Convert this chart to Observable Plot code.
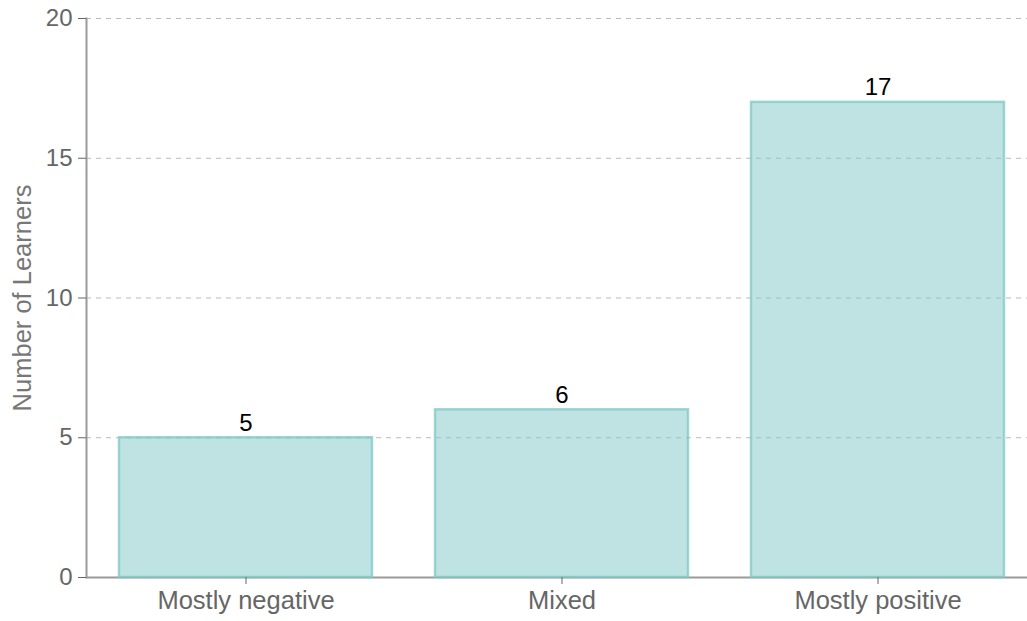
<!DOCTYPE html>
<html>
<head>
<meta charset="utf-8">
<script src="https://cdn.jsdelivr.net/npm/d3@7"></script>
<script src="https://cdn.jsdelivr.net/npm/@observablehq/plot@0.6"></script>
<style>
  html, body { margin: 0; padding: 0; background: white; }
</style>
</head>
<body>
<div id="chart"></div>
<script>
const categories = ["Mostly negative", "Mixed", "Mostly positive"];
const counts = [5, 6, 17];
const yTicks = [0, 5, 10, 15, 20];
const yLabel = "Number of Learners";

const data = categories.map((c, i) => ({category: c, count: counts[i]}));

const chart = Plot.plot({
  width: 1027,
  height: 621,
  marginLeft: 86,
  marginRight: 0,
  marginTop: 18,
  marginBottom: 44,
  style: {fontFamily: "'Liberation Sans', Arial, sans-serif", fontSize: "24px", background: "white", overflow: "hidden"},
  x: {domain: categories, range: [86, 1036], paddingInner: 0.2, paddingOuter: 0.1},
  y: {domain: [0, 20]},
  marks: [
    Plot.gridY(yTicks, {stroke: "#bbb", strokeOpacity: 1, strokeDasharray: "5,5", strokeWidth: 1.2}),
    Plot.ruleY([0], {stroke: "#9a9a9a", strokeWidth: 2}),
    Plot.frame({anchor: "left", stroke: "#9a9a9a", strokeWidth: 2}),
    Plot.barY(data, {x: "category", y: "count", fill: "#7fc8c6", fillOpacity: 0.5, stroke: "#7fc8c6", strokeOpacity: 0.75, strokeWidth: 2.5}),
    Plot.text(data, {x: "category", y: "count", text: d => String(d.count), dy: -7, lineAnchor: "bottom", fill: "black", fontSize: 24}),
    Plot.axisY(yTicks, {tickSize: 8, tickPadding: 6, fontSize: 24, color: "#666", label: null}),
    Plot.text([yLabel], {frameAnchor: "left", dx: -74, rotate: -90, lineAnchor: "top", textAnchor: "middle", fill: "#777", fontSize: 25.5}),
    Plot.axisX({tickSize: 7, tickPadding: 6, fontSize: 25.5, color: "#666", label: null})
  ]
});
document.getElementById("chart").append(chart);
</script>
</body>
</html>
